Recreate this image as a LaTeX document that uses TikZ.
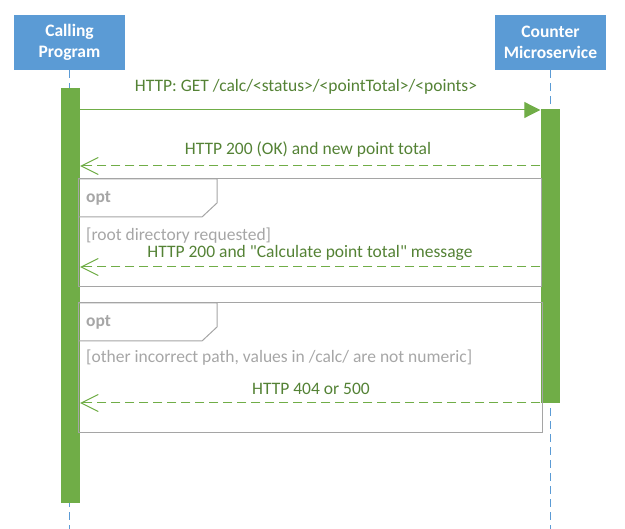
\documentclass[tikz,border=0pt]{standalone}
\usepackage{fontspec}
\setmainfont{Carlito}[Ligatures=TeXOff]
\usetikzlibrary{arrows.meta}
\definecolor{boxblue}{HTML}{5B9BD5}
\definecolor{barGreen}{HTML}{70AD47}
\definecolor{txtGreen}{HTML}{548235}
\definecolor{frameGray}{HTML}{A5A5A5}
\definecolor{txtGray}{HTML}{A6A6A6}
\tikzset{
  actor/.style={fill=boxblue, draw=none, text=white, font=\fontsize{17.5}{21}\selectfont\bfseries, align=center, minimum width=111pt, minimum height=55pt, inner sep=0pt},
  lifeline/.style={draw=boxblue, line width=0.9pt, dash pattern=on 8pt off 5pt},
  actbar/.style={fill=barGreen, draw=none, minimum width=19pt, inner sep=0pt, anchor=north},
  callmsg/.style={draw=barGreen, line width=1pt, -{Triangle[length=16pt,width=16pt]}},
  retmsg/.style={draw=barGreen, line width=1pt, dash pattern=on 9pt off 5pt, -{Straight Barb[length=17pt,width=17pt,line width=1pt]}},
  msglabel/.style={text=txtGreen, font=\fontsize{17.5}{21}\selectfont, inner sep=0pt},
  frame/.style={draw=frameGray, line width=1pt},
  optlabel/.style={text=txtGray, font=\fontsize{17.5}{21}\selectfont\bfseries, anchor=west, inner sep=0pt},
  guard/.style={text=txtGray, font=\fontsize{17.5}{21}\selectfont, anchor=west, inner sep=0pt},
}
\begin{document}
\begin{tikzpicture}[x=1pt,y=-1pt]
\useasboundingbox (0,0) rectangle (625,529);
% actors
\node[actor] (cp) at (69.5,42.5) {Calling\\Program};
\node[actor] (cm) at (550.5,42.5) {Counter\\Microservice};
% lifelines
\coordinate (cpend) at (69.5,529);
\coordinate (cmend) at (550.5,529);
\draw[lifeline] (cp.south) -- (cpend);
\draw[lifeline] (cm.south) -- (cmend);
% activation bars
\node[actbar, minimum height=415pt] (cpbar) at (70.5,88) {};
\node[actbar, minimum height=294pt] (cmbar) at (550,109) {};
% frames
\draw[frame] (78,179) rectangle (541,287);
\draw[frame] (78,179) -- (217,179) -- (217,203) -- (202,217) -- (78,217);
\draw[frame] (78,303) rectangle (542,433);
\draw[frame] (78,303) -- (217,303) -- (217,327) -- (202,341) -- (78,341);
\node[optlabel] (opt1) at (86,198) {opt};
\node[optlabel] (opt2) at (86,322) {opt};
\node[guard] (g1) at (86,236) {[root directory requested]};
\node[guard] (g2) at (86,358) {[other incorrect path, values in /calc/ are not numeric]};
% messages
\coordinate (m1s) at (cpbar.east |- 0,110);
\coordinate (m1e) at (cmbar.west |- 0,110);
\draw[callmsg] (m1s) -- (m1e);
\node[msglabel] (l1) at (306,87) {HTTP: GET /calc/<status>/<pointTotal>/<points>};
\coordinate (m2s) at (cmbar.west |- 0,166);
\coordinate (m2e) at (cpbar.east |- 0,166);
\draw[retmsg] (m2s) -- (m2e);
\node[msglabel] (l2) at (308,150) {HTTP 200 (OK) and new point total};
\coordinate (m3s) at (cmbar.west |- 0,267);
\coordinate (m3e) at (cpbar.east |- 0,267);
\draw[retmsg] (m3s) -- (m3e);
\node[msglabel] (l3) at (310,253) {HTTP 200 and "Calculate point total" message};
\coordinate (m4s) at (cmbar.west |- 0,403);
\coordinate (m4e) at (cpbar.east |- 0,403);
\draw[retmsg] (m4s) -- (m4e);
\node[msglabel] (l4) at (311,389) {HTTP 404 or 500};
\end{tikzpicture}
\end{document}
